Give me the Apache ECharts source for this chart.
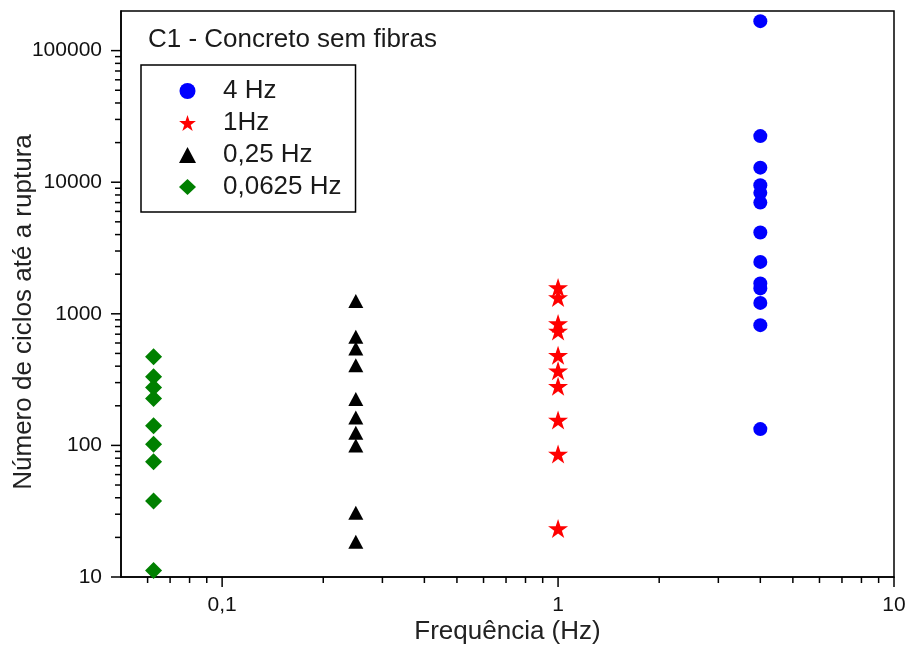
<!DOCTYPE html>
<html><head><meta charset="utf-8">
<script src="https://cdn.jsdelivr.net/npm/echarts@6/dist/echarts.min.js"></script>
<style>html,body{margin:0;padding:0;background:#fff}#c{width:907px;height:645px}</style>
</head><body><div id="c"></div>
<script>
// ---- data ----
const seriesNames = ['4 Hz', '1Hz', '0,25 Hz', '0,0625 Hz'];
const freqs = [4, 1, 0.25, 0.0625];
const cycles4Hz = [167500, 22400, 12900, 9500, 8300, 7000, 4150, 2480, 1700, 1560, 1210, 820, 133];
const cycles1Hz = [1585, 1330, 845, 740, 485, 370, 282, 156, 86, 23.4];
const cycles025Hz = [1250, 668, 545, 407, 225, 163, 125, 100, 30.8, 18.5];
const cycles00625Hz = [471, 332, 276, 227, 141, 102, 75, 37.8, 11.2];
const xTickLabels = [0.1, 1, 10];
const yTickLabels = [10, 100, 1000, 10000, 100000];
const xMinorTicks = [0.06, 0.07, 0.08, 0.09, 0.2, 0.3, 0.4, 0.5, 0.6, 0.7, 0.8, 0.9, 2, 3, 4, 5, 6, 7, 8, 9];
const yMinorTicks = [20, 30, 40, 50, 60, 70, 80, 90, 200, 300, 400, 500, 600, 700, 800, 900,
  2000, 3000, 4000, 5000, 6000, 7000, 8000, 9000, 20000, 30000, 40000, 50000, 60000, 70000, 80000, 90000];
const X_MIN = 0.05, X_MAX = 10, Y_MIN = 10, Y_MAX = 200000;

const STAR = 'path://M50,0 L61.23,34.55 L97.55,34.55 L68.16,55.9 L79.39,90.45 L50,69.1 L20.61,90.45 L31.84,55.9 L2.45,34.55 L38.77,34.55 Z';

function pts(f, arr) { return arr.map(v => [f, v]); }
function tickSeries(values, isX, len) {
  return {
    type: 'custom', silent: true, clip: false, z: 6,
    data: values.map(v => isX ? [v, Y_MIN] : [X_MIN, v]),
    renderItem: function (params, api) {
      const p = api.coord([api.value(0), api.value(1)]);
      const shape = isX ? {x1: p[0], y1: p[1], x2: p[0], y2: p[1] + len}
                        : {x1: p[0], y1: p[1], x2: p[0] - len, y2: p[1]};
      return {type: 'line', shape: shape, style: {stroke: '#000', lineWidth: 1.5}};
    }
  };
}
const fmt = v => String(v).replace('.', ',');

const chart = echarts.init(document.getElementById('c'), null, {renderer: 'canvas'});
chart.setOption({
  animation: false,
  backgroundColor: '#fff',
  textStyle: {fontFamily: 'Liberation Sans, Arial, sans-serif'},
  title: {
    text: 'C1 - Concreto sem fibras', left: 143, top: 22,
    textStyle: {fontSize: 26, fontWeight: 'normal', color: '#1a1a1a', fontFamily: 'Liberation Sans'}
  },
  legend: {
    orient: 'vertical', left: 141, top: 65,
    padding: [13, 14, 12, 38],
    borderColor: '#000', borderWidth: 1.5,
    itemWidth: 17, itemHeight: 16, itemGap: 6,
    textStyle: {fontSize: 26, color: '#1a1a1a', fontFamily: 'Liberation Sans', padding: [0, 0, 0, 22]},
    data: seriesNames
  },
  grid: {left: 121, right: 13, top: 11, bottom: 68, outerBoundsMode: 'none', containLabel: false,
    show: true, borderColor: '#000', borderWidth: 1.5, backgroundColor: 'transparent'},
  xAxis: {
    type: 'log', logBase: 10, min: X_MIN, max: X_MAX,
    name: 'Frequência (Hz)', nameLocation: 'middle', nameGap: 42, nameMoveOverlap: false,
    nameTextStyle: {fontSize: 26, color: '#222', fontFamily: 'Liberation Sans'},
    axisLine: {lineStyle: {color: '#000', width: 1.5}},
    axisTick: {show: false}, splitLine: {show: false}, minorTick: {show: false},
    axisLabel: {customValues: xTickLabels, formatter: fmt, fontSize: 21, margin: 18, color: '#111', fontFamily: 'Liberation Sans'}
  },
  yAxis: {
    type: 'log', logBase: 10, min: Y_MIN, max: Y_MAX,
    name: 'Número de ciclos até a ruptura', nameLocation: 'middle', nameGap: 84, nameMoveOverlap: false,
    nameTextStyle: {fontSize: 26, color: '#222', fontFamily: 'Liberation Sans', padding: [0, 36, 0, 0]},
    axisLine: {lineStyle: {color: '#000', width: 1.5}},
    axisTick: {show: false}, splitLine: {show: false}, minorTick: {show: false},
    axisLabel: {customValues: yTickLabels, formatter: fmt, fontSize: 21, margin: 19, color: '#111', fontFamily: 'Liberation Sans'}
  },
  series: [
    {name: seriesNames[0], type: 'scatter', symbol: 'circle', symbolSize: 14, itemStyle: {color: '#0000ff', opacity: 1}, data: pts(freqs[0], cycles4Hz), z: 3},
    {name: seriesNames[1], type: 'scatter', symbol: STAR, symbolKeepAspect: true, symbolSize: 20, itemStyle: {color: '#ff0000', opacity: 1}, data: pts(freqs[1], cycles1Hz), z: 3},
    {name: seriesNames[2], type: 'scatter', symbol: 'triangle', symbolSize: [15, 14], itemStyle: {color: '#000000', opacity: 1}, data: pts(freqs[2], cycles025Hz), z: 3},
    {name: seriesNames[3], type: 'scatter', symbol: 'diamond', symbolSize: 17, itemStyle: {color: '#008000', opacity: 1}, data: pts(freqs[3], cycles00625Hz), z: 3},
    tickSeries(xTickLabels, true, 10),
    tickSeries(xMinorTicks, true, 6),
    tickSeries(yTickLabels, false, 10),
    tickSeries(yMinorTicks, false, 6)
  ]
});
</script>
</body></html>
